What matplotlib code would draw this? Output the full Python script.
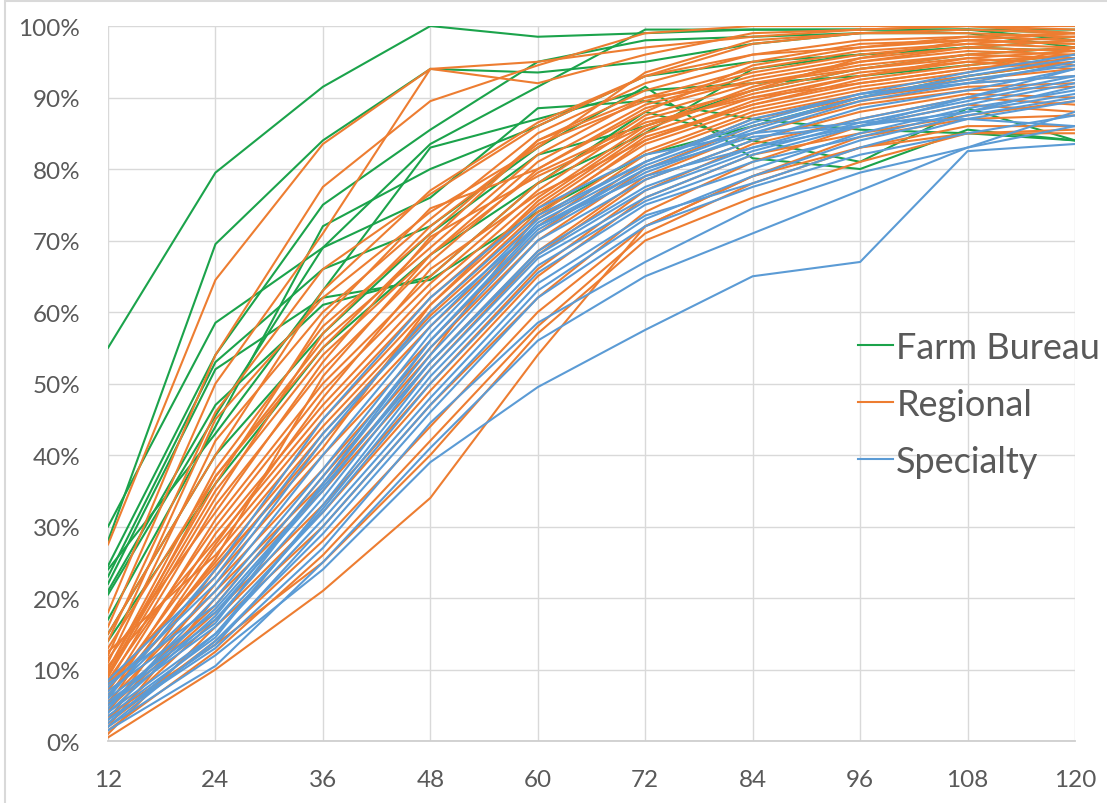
# Loss development curves by company type: share of ultimate reported at each age (months)

import matplotlib as mpl
mpl.use('Agg')
import matplotlib.pyplot as plt
from matplotlib.lines import Line2D
from matplotlib.patches import Rectangle

plt.rcParams['font.family'] = ['Lato', 'DejaVu Sans']

AGES = [12, 24, 36, 48, 60, 72, 84, 96, 108, 120]
Y_TICKS = [0, 10, 20, 30, 40, 50, 60, 70, 80, 90, 100]

# Farm Bureau companies (% reported at each age)
farm_bureau = [
    [55, 79.5, 91.5, 100, 98.5, 99, 99.5, 99.5, 99.5, 99],
    [28, 69.5, 84, 94, 93.5, 95, 97.5, 99, 99.5, 99.5],
    [30, 58.5, 69, 83.5, 91.5, 99.5, 99.5, 99.5, 99.5, 98],
    [24.5, 54, 75, 85.5, 95, 98, 98.5, 99, 99, 97],
    [23, 53, 66, 72, 83, 91.5, 81.5, 80, 85.5, 84],
    [21, 47, 61, 65, 78, 88, 84, 81, 88.5, 84],
    [20.5, 45.5, 69, 76, 88.5, 89.5, 87, 85.5, 85, 84],
    [24, 43, 63, 83, 87, 91, 92, 93, 94.5, 96],
    [15, 40, 57, 71, 82, 86, 91, 94, 96, 97],
    [14, 36, 55, 68, 78, 85, 94, 96, 97, 98],
    [17, 44, 72, 80, 86, 93, 95, 96, 97, 96.5],
    [22, 52, 62, 64.5, 74, 82, 86, 90, 93, 95],
]

# Regional companies
regional = [
    [27.5, 64.5, 83.5, 94, 92, 96, 99, 99.5, 100, 99],
    [18, 54, 77.5, 89.5, 94.5, 99, 100, 100, 100, 100],
    [16, 50, 71, 94, 95, 97, 98.5, 99.5, 100, 99.5],
    [14, 46, 66, 76.5, 86, 93, 97.5, 99, 99.5, 99],
    [12, 45, 62, 74, 83, 93.5, 98, 99, 99, 98.5],
    [11, 42, 60, 73, 85, 92, 96, 98, 98.5, 98],
    [10, 38, 58, 71, 84, 91, 95, 97.5, 98, 97.5],
    [9, 37, 56, 69, 82, 90, 94, 96.5, 97.5, 97],
    [9.5, 35, 54, 68, 81, 89, 93, 95.5, 97, 96.5],
    [8, 33, 52, 67, 80, 88.5, 92.5, 95, 96.5, 96],
    [7, 31, 50, 65, 78, 87.5, 92, 94.5, 96, 95.5],
    [8.5, 30, 49, 64, 77, 87, 91, 94, 95.5, 94.5],
    [6, 29, 47, 63, 76, 86, 90.5, 93.5, 95, 94],
    [10.5, 28, 46, 62, 75, 85, 90, 93, 95, 96],
    [5, 27, 45, 61, 74.5, 84.5, 89, 92, 94, 95.5],
    [12.5, 26, 44, 60, 74, 83.5, 88.5, 91.5, 93.5, 97],
    [7.5, 25, 43, 59.5, 73, 82.5, 88, 91, 93, 95],
    [4, 24, 42, 58, 72, 82, 87.5, 90.5, 92.5, 94],
    [6.5, 23, 40, 56, 71, 81, 87, 90, 92, 93],
    [3, 22, 38, 55, 70, 80, 86, 89.5, 91.5, 92],
    [5.5, 21, 36, 53, 68.5, 79, 85, 89, 91, 91.5],
    [2, 20, 35, 52, 68, 78.5, 84, 88, 90.5, 90],
    [4.5, 18, 33, 50, 66, 77, 83.5, 87, 90, 89],
    [1, 16, 30, 47, 62, 74, 81, 86, 89, 88],
    [2.5, 14, 28, 44, 60, 72, 79, 84.5, 87, 87.5],
    [1.5, 12.5, 26, 42, 58, 71, 78, 83, 86, 86],
    [0.5, 10, 21, 34, 54, 72, 79, 83, 85, 85],
    [3.5, 13.5, 25, 40, 57, 70, 76, 81, 85, 85.5],
    [15, 40, 63, 77, 86.5, 93, 96, 97, 98, 97.5],
    [13, 37, 55, 70, 84, 90, 92, 94, 96, 97],
    [9, 34, 57, 72, 83.5, 89.5, 93.5, 96, 97.5, 98.5],
    [11.5, 32, 53, 70.5, 79, 86, 91.5, 95, 97, 98],
    [7, 27.5, 48, 66, 76.5, 84, 89.5, 93, 95.5, 96.5],
    [6, 25.5, 51, 68, 79.5, 86.5, 90, 92, 94, 95],
    [10, 36, 59, 74.5, 80, 88, 94.5, 97, 98.5, 99],
    [5, 19, 37, 54, 73.5, 84, 89, 92.5, 94.5, 96],
    [3, 17, 32, 49, 65, 76, 82, 85, 87.5, 89.5],
    [8, 24.5, 41, 61, 75.5, 85.5, 91, 95.5, 98, 99],
]

# Specialty companies
specialty = [
    [2, 12, 24, 39, 49.5, 57.5, 65, 67, 82.5, 83.5],
    [3, 13, 27, 44.5, 58.5, 67, 74.5, 79.5, 83, 86],
    [2, 14, 29, 46, 62, 72, 77.5, 82, 85, 87.5],
    [4, 15, 31, 48, 64, 73.5, 78, 83, 87, 89.5],
    [5, 16, 32, 50, 65.5, 75, 80, 85, 88.5, 91],
    [3.5, 14.5, 33, 52, 67.5, 76, 82, 86, 89, 92],
    [6, 17, 34, 53, 68.5, 77.5, 83, 87, 90, 93],
    [7, 18, 35, 54, 70, 78.5, 84, 88.5, 91, 94],
    [5.5, 16.5, 36, 55, 71, 79.5, 85, 89.5, 92, 95],
    [8, 19, 37, 56, 72, 80, 85.5, 90, 93, 95.5],
    [4.5, 20, 38, 57, 72.5, 80.5, 86, 90, 92.5, 94.5],
    [6.5, 21, 40, 58, 73, 81, 86.5, 90.5, 93.5, 96],
    [2.5, 15, 32.5, 51, 66.5, 75.5, 81, 84.5, 88, 90.5],
    [7.5, 22, 42, 60, 73.5, 81, 87, 90.5, 92, 93],
    [3, 13.5, 30, 47, 63, 73, 79, 84, 87.5, 90],
    [5, 18.5, 35.5, 53, 68, 77, 82.5, 86.5, 89.5, 92.5],
    [6, 24, 45, 62, 74.5, 82, 85, 86.5, 87, 86],
    [1.5, 10.5, 25, 41, 56, 65, 71, 77, 83, 88],
    [4, 17.5, 36, 56, 71.5, 80, 84.5, 86, 88, 91.5],
    [8.5, 23, 43, 59, 72, 79, 83, 86, 90, 94],
]

GREEN = '#1ba34b'
ORANGE = '#ed7d31'
BLUE = '#5b9bd5'
GRID = '#d9d9d9'
TEXT = '#595959'

fig = plt.figure(figsize=(11.07, 8.04), dpi=100)
ax = fig.add_axes([0.0976, 0.0771, 0.8735, 0.8893])

for vals in farm_bureau:
    ax.plot(AGES, vals, color=GREEN, lw=1.5, solid_joinstyle='miter')
for vals in regional:
    ax.plot(AGES, vals, color=ORANGE, lw=1.5, solid_joinstyle='miter')
for vals in specialty:
    ax.plot(AGES, vals, color=BLUE, lw=1.5, solid_joinstyle='miter')

ax.set_xlim(12, 120)
ax.set_ylim(0, 100)
ax.set_xticks(AGES)
ax.set_yticks(Y_TICKS)
ax.set_yticklabels(['{}%'.format(t) for t in Y_TICKS])
ax.grid(True, color=GRID, lw=1.0)
ax.set_axisbelow(True)
for s in ['top', 'right', 'left']:
    ax.spines[s].set_visible(False)
ax.spines['bottom'].set_color('#cfcfcf')
ax.spines['bottom'].set_linewidth(1.3)
ax.tick_params(axis='both', length=0, labelsize=17.5, colors=TEXT)
ax.tick_params(axis='y', pad=20)
ax.tick_params(axis='x', pad=20)

handles = [Line2D([], [], color=c, lw=1.5) for c in (GREEN, ORANGE, BLUE)]
leg = ax.legend(handles, ['Farm Bureau', 'Regional', 'Specialty'],
                loc='center left', bbox_to_anchor=(0.776, 0.471), frameon=False,
                fontsize=26, handlelength=0.95, handletextpad=0.1,
                labelspacing=0.67, borderaxespad=0, borderpad=0)
for t in leg.get_texts():
    t.set_color(TEXT)

# light frame round the chart like the exported picture
fig.patches.append(Rectangle((0.0045, -0.05), 1.2, 1.0475, transform=fig.transFigure,
                             fill=False, edgecolor='#d9d9d9', lw=1.5))

fig.savefig('out.png', dpi=100)
